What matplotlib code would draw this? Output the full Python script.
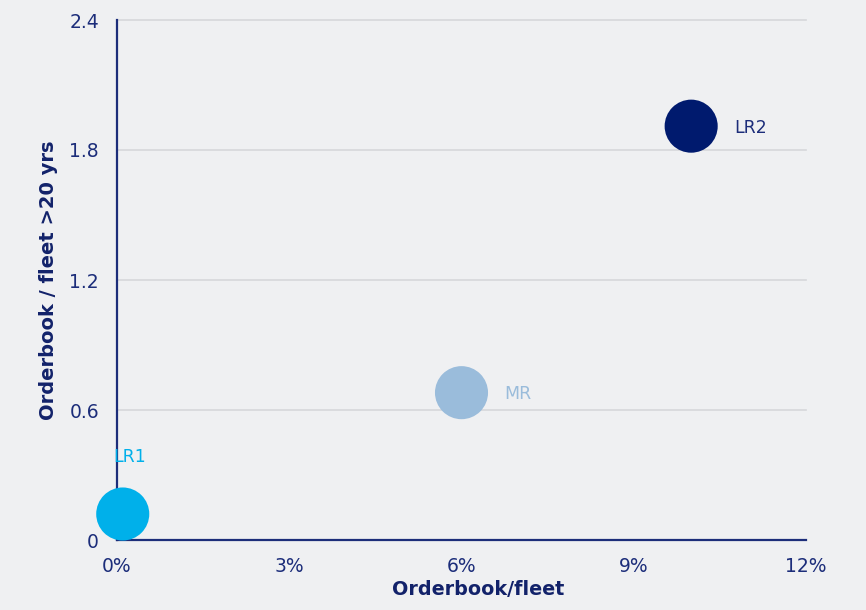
import matplotlib
matplotlib.use("Agg")
import matplotlib.pyplot as plt
from matplotlib.ticker import FuncFormatter

# Segment data
segments = ["LR1", "MR", "LR2"]
orderbook_fleet = [0.1, 6.0, 10.0]          # % of fleet
orderbook_old_fleet = [0.12, 0.68, 1.91]    # orderbook / fleet >20 yrs
colors = ["#00b0ea", "#9abcdb", "#001a6e"]

x_ticks = [0, 3, 6, 9, 12]
y_ticks = [0, 0.6, 1.2, 1.8, 2.4]

navy = "#1c2d7a"
label_navy = "#12226a"
bg = "#eff0f2"

fig = plt.figure(figsize=(8.66, 6.10), dpi=100, facecolor=bg)
ax = fig.add_axes([117 / 866, 70 / 610, 689 / 866, 520 / 610], facecolor=bg)

ax.set_xlim(0, 12)
ax.set_ylim(0, 2.4)
ax.set_xticks(x_ticks)
ax.set_yticks(y_ticks)
ax.xaxis.set_major_formatter(FuncFormatter(lambda v, p: f"{v:.0f}%"))
ax.yaxis.set_major_formatter(FuncFormatter(lambda v, p: "0" if v == 0 else f"{v:.1f}"))

ax.grid(axis="y", color="#d6d7da", linewidth=1.2, zorder=0)
ax.set_axisbelow(True)
for gl in ax.get_ygridlines():
    gl.set_clip_on(False)

for s in ["top", "right"]:
    ax.spines[s].set_visible(False)
for s in ["left", "bottom"]:
    ax.spines[s].set_color(navy)
    ax.spines[s].set_linewidth(1.6)
    ax.spines[s].set_zorder(2)

ax.tick_params(axis="both", length=0, colors=navy, labelsize=13.5)
ax.tick_params(axis="y", pad=13)
ax.tick_params(axis="x", pad=12)

ax.scatter(orderbook_fleet, orderbook_old_fleet, s=1460, c=colors,
           edgecolors="none", zorder=3, clip_on=False)

for name, x, y, c in zip(segments, orderbook_fleet, orderbook_old_fleet, colors):
    if name == "LR1":
        ax.annotate(name, (x, y), xytext=(5, 41), textcoords="offset points",
                    ha="center", va="center", color=c, fontsize=12.5)
    else:
        ax.annotate(name, (x, y), xytext=(31, -1), textcoords="offset points",
                    ha="left", va="center", color=c if name != "LR2" else navy,
                    fontsize=12.5)

ax.set_xlabel("Orderbook/fleet", fontsize=13.8, fontweight="bold", color=label_navy)
ax.xaxis.set_label_coords((478 - 117) / 689, -40 / 520)
ax.set_ylabel("Orderbook / fleet >20 yrs", fontsize=14, fontweight="bold", color=label_navy)
ax.yaxis.set_label_coords(-(117 - 58) / 689, 0.5)

fig.savefig("out.png", dpi=100, facecolor=bg)
